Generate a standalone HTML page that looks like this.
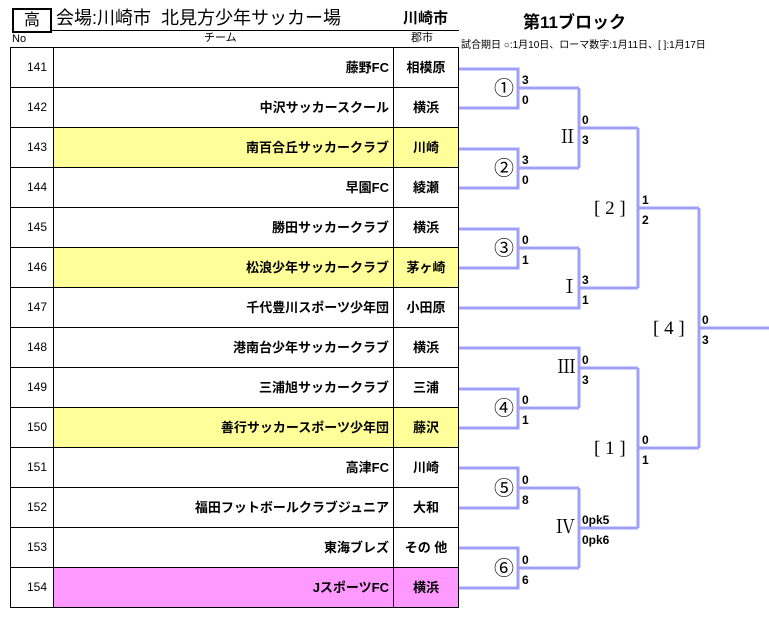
<!DOCTYPE html>
<html><head><meta charset="utf-8"><style>
body{margin:0;width:769px;height:618px;background:#fff;position:relative;overflow:hidden;font-family:"Liberation Sans","Noto Sans CJK JP",sans-serif;color:#000}
.a{position:absolute;white-space:nowrap}
.row{position:absolute;left:10px;width:449px;height:41px;border:1px solid #000;box-sizing:border-box}
.no{position:absolute;left:0;width:43px;top:0;height:39px;border-right:1px solid #000;text-align:right;line-height:39px;font-size:12px;padding-right:6px;box-sizing:border-box;background:#fff}
.tm{position:absolute;left:43px;width:340px;top:0;height:39px;border-right:1px solid #000;text-align:right;line-height:39px;font-size:13px;font-weight:bold;padding-right:4px;box-sizing:border-box}
.ct{position:absolute;left:383px;width:64px;top:0;height:39px;text-align:center;line-height:39px;font-size:13px;font-weight:bold}
.s{position:absolute;font-size:12px;font-weight:bold;line-height:12px}
.c{position:absolute;font-size:20px;line-height:22px}
.r{position:absolute;font-family:"Liberation Serif","Noto Serif CJK SC",serif;font-size:19px;line-height:20px}
</style></head><body>
<div class="a" style="left:12px;top:8px;width:36px;height:21px;border:2px solid #000;text-align:center;font-size:16px;line-height:21px">高</div>
<div class="a" style="left:56px;top:6px;font-size:18px;line-height:24px">会場:川崎市&nbsp;&nbsp;北見方少年サッカー場</div>
<div class="a" style="left:403px;top:9px;font-size:15px;line-height:20px;font-weight:bold">川崎市</div>
<div class="a" style="left:52px;top:30px;width:407px;border-top:1px solid #000"></div>
<div class="a" style="left:12px;top:33px;font-size:11px;line-height:13px">No</div>
<div class="a" style="left:204px;top:32px;font-size:11px;line-height:13px">チーム</div>
<div class="a" style="left:411px;top:32px;font-size:11px;line-height:13px">郡市</div>
<div class="a" style="left:523px;top:8px;font-size:17px;font-weight:bold">第11ブロック</div>
<div class="a" style="left:461px;top:36px;font-size:10px">試合期日 ○:1月10日、ローマ数字:1月11日、[ ]:1月17日</div>
<div class="row" style="top:47px"><div class="no">141</div><div class="tm">藤野FC</div><div class="ct">相模原</div></div>
<div class="row" style="top:87px"><div class="no">142</div><div class="tm">中沢サッカースクール</div><div class="ct">横浜</div></div>
<div class="row" style="top:127px;background:#ffff99"><div class="no">143</div><div class="tm">南百合丘サッカークラブ</div><div class="ct">川崎</div></div>
<div class="row" style="top:167px"><div class="no">144</div><div class="tm">早園FC</div><div class="ct">綾瀬</div></div>
<div class="row" style="top:207px"><div class="no">145</div><div class="tm">勝田サッカークラブ</div><div class="ct">横浜</div></div>
<div class="row" style="top:247px;background:#ffff99"><div class="no">146</div><div class="tm">松浪少年サッカークラブ</div><div class="ct">茅ヶ崎</div></div>
<div class="row" style="top:287px"><div class="no">147</div><div class="tm">千代豊川スポーツ少年団</div><div class="ct">小田原</div></div>
<div class="row" style="top:327px"><div class="no">148</div><div class="tm">港南台少年サッカークラブ</div><div class="ct">横浜</div></div>
<div class="row" style="top:367px"><div class="no">149</div><div class="tm">三浦旭サッカークラブ</div><div class="ct">三浦</div></div>
<div class="row" style="top:407px;background:#ffff99"><div class="no">150</div><div class="tm">善行サッカースポーツ少年団</div><div class="ct">藤沢</div></div>
<div class="row" style="top:447px"><div class="no">151</div><div class="tm">高津FC</div><div class="ct">川崎</div></div>
<div class="row" style="top:487px"><div class="no">152</div><div class="tm">福田フットボールクラブジュニア</div><div class="ct">大和</div></div>
<div class="row" style="top:527px"><div class="no">153</div><div class="tm">東海ブレズ</div><div class="ct">その 他</div></div>
<div class="row" style="top:567px;background:#ff99ff"><div class="no">154</div><div class="tm">JスポーツFC</div><div class="ct">横浜</div></div>
<svg class="a" style="left:0;top:0" width="769" height="618"><g fill="none" stroke="#a0a0f8" stroke-width="3">
<path d="M459 69H518V108H459M518 88H579"/>
<path d="M459 149H518V188H459M518 168H579"/>
<path d="M459 229H518V268H459M518 248H579"/>
<path d="M459 308H579V248M579 88V168M579 128H638M579 288H638"/>
<path d="M638 128V288M638 208H699"/>
<path d="M459 348H579V408M459 389H518V428H459M518 408H579M579 368H638"/>
<path d="M459 468H518V508H459M518 488H579M459 548H518V588H459M518 568H579M579 488V568M579 528H638"/>
<path d="M638 368V528M638 448H699M699 208V448M699 328H769"/>
</g></svg>
<div class="c" style="left:494px;top:78px">①</div>
<div class="c" style="left:494px;top:158px">②</div>
<div class="c" style="left:494px;top:238px">③</div>
<div class="c" style="left:494px;top:398px">④</div>
<div class="c" style="left:494px;top:478px">⑤</div>
<div class="c" style="left:494px;top:558px">⑥</div>
<div class="r" style="left:558px;top:128px">Ⅱ</div>
<div class="r" style="left:560px;top:278px">Ⅰ</div>
<div class="r" style="left:557px;top:358px">Ⅲ</div>
<div class="r" style="left:556px;top:518px">Ⅳ</div>
<div class="r" style="left:594px;top:199px">[ 2 ]</div>
<div class="r" style="left:594px;top:439px">[ 1 ]</div>
<div class="r" style="left:653px;top:319px">[ 4 ]</div>
<div class="s" style="left:522px;top:74px">3</div><div class="s" style="left:522px;top:94px">0</div>
<div class="s" style="left:522px;top:154px">3</div><div class="s" style="left:522px;top:174px">0</div>
<div class="s" style="left:522px;top:234px">0</div><div class="s" style="left:522px;top:254px">1</div>
<div class="s" style="left:522px;top:394px">0</div><div class="s" style="left:522px;top:414px">1</div>
<div class="s" style="left:522px;top:474px">0</div><div class="s" style="left:522px;top:494px">8</div>
<div class="s" style="left:522px;top:554px">0</div><div class="s" style="left:522px;top:574px">6</div>
<div class="s" style="left:582px;top:114px">0</div><div class="s" style="left:582px;top:134px">3</div>
<div class="s" style="left:582px;top:274px">3</div><div class="s" style="left:582px;top:294px">1</div>
<div class="s" style="left:582px;top:354px">0</div><div class="s" style="left:582px;top:374px">3</div>
<div class="s" style="left:582px;top:514px">0pk5</div><div class="s" style="left:582px;top:534px">0pk6</div>
<div class="s" style="left:642px;top:194px">1</div><div class="s" style="left:642px;top:214px">2</div>
<div class="s" style="left:642px;top:434px">0</div><div class="s" style="left:642px;top:454px">1</div>
<div class="s" style="left:702px;top:314px">0</div><div class="s" style="left:702px;top:334px">3</div>
</body></html>
